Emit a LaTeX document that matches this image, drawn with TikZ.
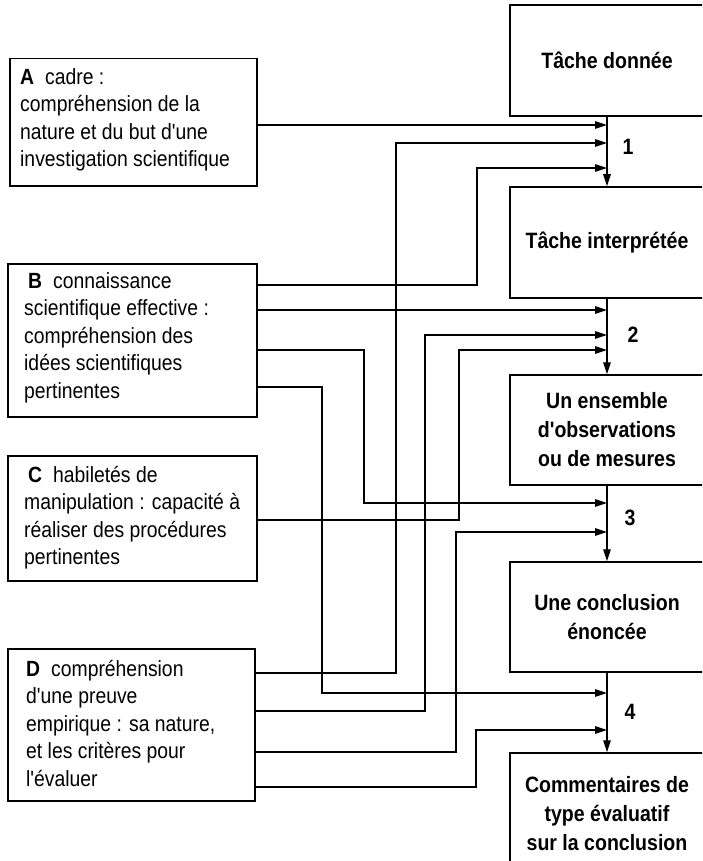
\documentclass[tikz,border=0pt]{standalone}
\usepackage{fontspec}
\setmainfont{Liberation Sans}[Ligatures=TeXOff, FakeStretch=0.88]
\usetikzlibrary{arrows.meta}
\tikzset{
  lbox/.style={draw, line width=1.5pt, anchor=north west, inner sep=0pt},
  ltext/.style={anchor=north west, inner sep=0pt, align=left, font=\fontsize{22}{27.5}\selectfont},
  rbox/.style={draw, line width=1.5pt, minimum width=194pt, align=center, inner sep=0pt, font=\bfseries\fontsize{22.2}{29}\selectfont},
  stepnum/.style={inner sep=0pt, font=\bfseries\fontsize{22.2}{26}\selectfont},
  conn/.style={line width=1.4pt, -{Triangle[length=12pt,width=7.5pt]}},
}
\begin{document}
\begin{tikzpicture}[x=1pt,y=-1pt]
\useasboundingbox (0,0) rectangle (702,861);
\clip (0,0) rectangle (702,861);
\fill[white] (0,0) rectangle (702,861);

% left boxes
\node[lbox, minimum width=247pt, minimum height=127pt] (A) at (9,58) {};
\node[lbox, minimum width=249pt, minimum height=153pt] (B) at (7,263) {};
\node[lbox, minimum width=249pt, minimum height=125pt] (C) at (7,455) {};
\node[lbox, minimum width=247pt, minimum height=152pt] (D) at (7,648) {};

\node[ltext] (At) at (20,68) {\textbf{A}\hspace{0.5em}cadre :\\compréhension de la\\nature et du but d'une\\investigation scientifique};
\node[ltext] (Bt) at (24,272) {\hspace*{4pt}\textbf{B}\hspace{0.5em}connaissance\\scientifique effective :\\compréhension des\\idées scientifiques\\pertinentes};
\node[ltext] (Ct) at (24,466) {\hspace*{4pt}\textbf{C}\hspace{0.5em}habiletés de\\manipulation : capacité à\\réaliser des procédures\\pertinentes};
\node[ltext] (Dt) at (26,660) {\textbf{D}\hspace{0.5em}compréhension\\d'une preuve\\empirique : sa nature,\\et les critères pour\\l'évaluer};

% right boxes
\node[rbox, minimum height=111pt] (T1) at (607,60.5) {Tâche donnée};
\node[rbox, minimum height=111pt] (T2) at (607,242.5) {Tâche interprétée};
\node[rbox, minimum height=110pt] (T3) at (607,430) {Un ensemble\\d'observations\\ou de mesures};
\node[rbox, minimum height=110pt] (T4) at (607,617) {Une conclusion\\énoncée};
\node[rbox, minimum height=122pt] (T5) at (607,814) {Commentaires de\\type évaluatif\\sur la conclusion};

% step numbers
\node[stepnum] (n1) at (628,147) {1};
\node[stepnum] (n2) at (633,335) {2};
\node[stepnum] (n3) at (630,518) {3};
\node[stepnum] (n4) at (630,712) {4};

% step lines
\draw[conn] (T1.south) -- (T2.north);
\draw[conn] (T2.south) -- (T3.north);
\draw[conn] (T3.south) -- (T4.north);
\draw[conn] (T4.south) -- (T5.north);

% arrival points
\coordinate (p1a) at (607,125);
\coordinate (p1b) at (607,143);
\coordinate (p1c) at (607,168);
\coordinate (p2a) at (607,310);
\coordinate (p2b) at (607,335);
\coordinate (p2c) at (607,350);
\coordinate (p3a) at (607,503);
\coordinate (p3b) at (607,532);
\coordinate (p4a) at (607,693);
\coordinate (p4b) at (607,730);

% connectors
\draw[conn] (A.east |- p1a) -- (p1a);
\draw[conn] (D.east |- 0,673) -| (396,143) -- (p1b);
\draw[conn] (B.east |- 0,285) -| (477,168) -- (p1c);
\draw[conn] (B.east |- p2a) -- (p2a);
\draw[conn] (D.east |- 0,711) -| (425,335) -- (p2b);
\draw[conn] (C.east |- 0,520) -| (459,350) -- (p2c);
\draw[conn] (B.east |- 0,350) -| (364,503) -- (p3a);
\draw[conn] (D.east |- 0,752) -| (456,532) -- (p3b);
\draw[conn] (B.east |- 0,387) -| (322,693) -- (p4a);
\draw[conn] (D.east |- 0,787) -| (476,730) -- (p4b);
\end{tikzpicture}
\end{document}
